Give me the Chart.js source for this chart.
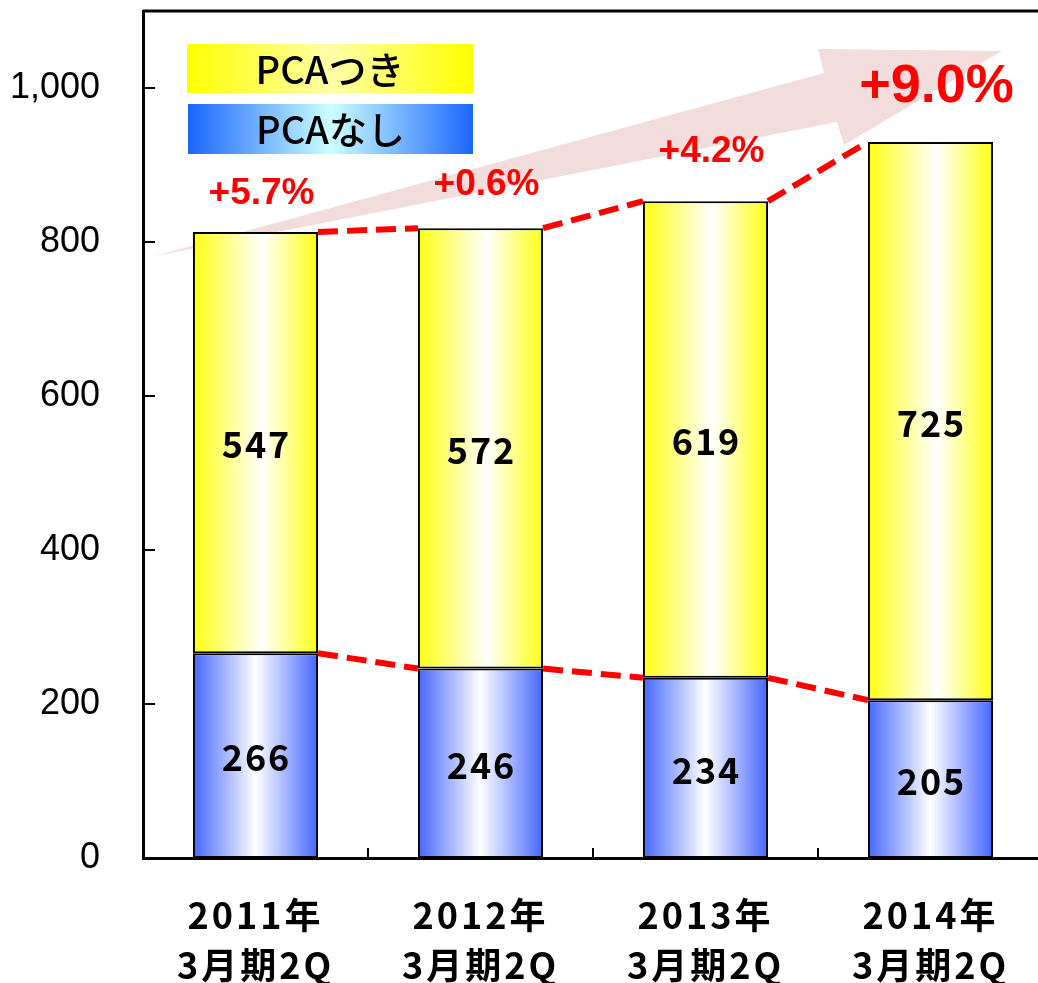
<!DOCTYPE html>
<html>
<head>
<meta charset="utf-8">
<script src="https://cdn.jsdelivr.net/npm/chart.js@4.4.1/dist/chart.umd.min.js"></script>
<style>
html, body { margin: 0; padding: 0; background: #fff; overflow: hidden; }
#wrap { width: 1050px; height: 983px; position: relative; }
</style>
</head>
<body>
<div id="wrap"><canvas id="myChart"></canvas></div>
<script>
// Données
const labels = [["2011年", "3月期2Q"], ["2012年", "3月期2Q"], ["2013年", "3月期2Q"], ["2014年", "3月期2Q"]];
const seriesNames = ["PCAなし", "PCAつき"];
const pcaNashi = [266, 246, 234, 205];
const pcaTsuki = [547, 572, 619, 725];
const growthLabels = ["+5.7%", "+0.6%", "+4.2%", "+9.0%"];
const yTickValues = [0, 200, 400, 600, 800, 1000];

const JP = "'Noto Sans CJK JP', sans-serif";
const LATIN = "'Liberation Sans', Arial, sans-serif";

// dégradé horizontal sur chaque barre
function barGradient(c, stops) {
    const chart = c.chart;
    const xs = chart.scales.x;
    if (!chart.chartArea || !xs || c.dataIndex === undefined) return stops[0][1];
    const cx = xs.getPixelForValue(c.dataIndex);
    const w = xs.width / labels.length * 0.556;
    const g = chart.ctx.createLinearGradient(cx - w / 2, 0, cx + w / 2, 0);
    stops.forEach(s => g.addColorStop(s[0], s[1]));
    return g;
}

const blueStops = [[0, "#4466ff"], [0.5, "#ffffff"], [1, "#4466ff"]];
const yellowStops = [[0, "#ffff14"], [0.55, "#ffffff"], [1, "#ffff14"]];

const decorations = {
    id: "decorations",
    beforeDatasetsDraw(chart) {
        // grande flèche rose derrière les barres
        const { ctx, chartArea: a } = chart;
        const pts = [[12, 245], [681, 62], [675, 38], [859, 40], [701, 134], [694, 111]];
        ctx.save();
        ctx.fillStyle = "#f2dcdc";
        ctx.beginPath();
        pts.forEach((p, i) => i ? ctx.lineTo(a.left + p[0], a.top + p[1]) : ctx.moveTo(a.left + p[0], a.top + p[1]));
        ctx.closePath();
        ctx.fill();
        ctx.restore();
    },
    afterDatasetsDraw(chart) {
        const { ctx, chartArea: a, scales } = chart;
        const m0 = chart.getDatasetMeta(0).data;
        const m1 = chart.getDatasetMeta(1).data;
        ctx.save();

        // bord supérieur
        ctx.strokeStyle = "#000";
        ctx.lineWidth = 3;
        ctx.beginPath();
        ctx.moveTo(a.left, a.top);
        ctx.lineTo(a.right, a.top);
        ctx.stroke();

        // petites graduations vers l'intérieur
        ctx.lineWidth = 2;
        yTickValues.slice(1).forEach(v => {
            const y = scales.y.getPixelForValue(v);
            ctx.beginPath();
            ctx.moveTo(a.left, y);
            ctx.lineTo(a.left + 12, y);
            ctx.stroke();
        });
        for (let i = 0; i < labels.length - 1; i++) {
            const x = (scales.x.getPixelForValue(i) + scales.x.getPixelForValue(i + 1)) / 2;
            ctx.beginPath();
            ctx.moveTo(x, a.bottom);
            ctx.lineTo(x, a.bottom - 10);
            ctx.stroke();
        }

        // lignes pointillées rouges
        ctx.strokeStyle = "#ff0000";
        ctx.lineWidth = 6;
        ctx.setLineDash([20, 9]);
        [m0, m1].forEach(els => {
            for (let i = 0; i < els.length - 1; i++) {
                const e = els[i], n = els[i + 1];
                ctx.beginPath();
                ctx.moveTo(e.x + e.width / 2, e.y);
                ctx.lineTo(n.x - n.width / 2, n.y);
                ctx.stroke();
            }
        });
        ctx.setLineDash([]);

        // valeurs dans les barres
        ctx.fillStyle = "#000";
        ctx.textAlign = "center";
        ctx.textBaseline = "middle";
        ctx.font = "bold 36px " + JP;
        ctx.letterSpacing = "2px";
        [m0, m1].forEach((els, d) => {
            const vals = d ? pcaTsuki : pcaNashi;
            els.forEach((e, i) => {
                ctx.fillText(String(vals[i]), e.x + 1, (e.y + e.base) / 2 + 2);
            });
        });
        ctx.letterSpacing = "0px";

        // taux de croissance
        const lift = [38, 43, 49, 55];
        ctx.fillStyle = "#ff0000";
        m1.forEach((e, i) => {
            const big = i === m1.length - 1;
            ctx.font = "bold " + (big ? 54 : 37) + "px " + LATIN;
            ctx.fillText(growthLabels[i], e.x + 6, e.y - lift[i]);
        });
        ctx.restore();
    },
    afterDraw(chart) {
        // légende dessinée à la main
        const { ctx, chartArea: a } = chart;
        const boxes = [
            { name: seriesNames[1], x: 44, y: 33, w: 286, h: 49, stops: [[0, "#ffff00"], [0.5, "#ffffa8"], [1, "#ffff00"]] },
            { name: seriesNames[0], x: 45, y: 93, w: 285, h: 50, stops: [[0, "#1a66ff"], [0.5, "#ccffff"], [1, "#1a66ff"]] }
        ];
        ctx.save();
        boxes.forEach(b => {
            const x = a.left + b.x, y = a.top + b.y;
            const g = ctx.createLinearGradient(x, 0, x + b.w, 0);
            b.stops.forEach(s => g.addColorStop(s[0], s[1]));
            ctx.fillStyle = g;
            ctx.fillRect(x, y, b.w, b.h);
            ctx.fillStyle = "#000";
            ctx.font = "500 38px " + JP;
            ctx.textAlign = "center";
            ctx.textBaseline = "middle";
            ctx.fillText(b.name, x + b.w / 2, y + b.h / 2 + 1);
        });
        ctx.restore();
    }
};

// espacement des lettres pour les libellés de l'axe x
const spacedXLabels = {
    id: "spacedXLabels",
    afterUpdate(chart) {
        const xs = chart.scales.x;
        if (xs._spaced) return;
        const orig = xs.drawLabels;
        xs.drawLabels = function (area) {
            this.ctx.save();
            this.ctx.letterSpacing = "3px";
            orig.call(this, area);
            this.ctx.restore();
        };
        xs._spaced = true;
    }
};

const config = {
    type: "bar",
    data: {
        labels: labels,
        datasets: [
            {
                label: seriesNames[0],
                data: pcaNashi,
                backgroundColor: c => barGradient(c, blueStops),
                borderColor: "#000",
                borderWidth: 2,
                borderSkipped: false,
                categoryPercentage: 1,
                barPercentage: 0.556
            },
            {
                label: seriesNames[1],
                data: pcaTsuki,
                backgroundColor: c => barGradient(c, yellowStops),
                borderColor: "#000",
                borderWidth: 2,
                borderSkipped: false,
                categoryPercentage: 1,
                barPercentage: 0.556
            }
        ]
    },
    options: {
        responsive: true,
        maintainAspectRatio: false,
        animation: false,
        layout: { padding: { top: 11, right: 7, left: 0, bottom: 0 } },
        plugins: {
            legend: { display: false },
            tooltip: { enabled: false }
        },
        scales: {
            x: {
                stacked: true,
                grid: { display: false, drawTicks: false },
                border: { display: true, color: "#000", width: 3 },
                ticks: {
                    color: "#000",
                    padding: 32,
                    maxRotation: 0,
                    autoSkip: false,
                    font: { family: JP, size: 36, weight: "bold", lineHeight: 1.39 }
                },
                afterFit: s => { s.height = 125; s.paddingLeft = 0; s.paddingRight = 0; }
            },
            y: {
                stacked: true,
                min: 0,
                max: 1100,
                grid: { display: false, drawTicks: false },
                border: { display: true, color: "#000", width: 3 },
                afterBuildTicks: s => { s.ticks = yTickValues.map(v => ({ value: v })); },
                ticks: {
                    color: "#000",
                    padding: 43,
                    font: { family: LATIN, size: 36 },
                    callback: v => v.toLocaleString("en-US")
                },
                afterFit: s => { s.width = 143; s.paddingTop = 0; s.paddingBottom = 0; }
            }
        }
    },
    plugins: [decorations, spacedXLabels]
};

const myChart = new Chart(document.getElementById("myChart"), config);
</script>
</body>
</html>
